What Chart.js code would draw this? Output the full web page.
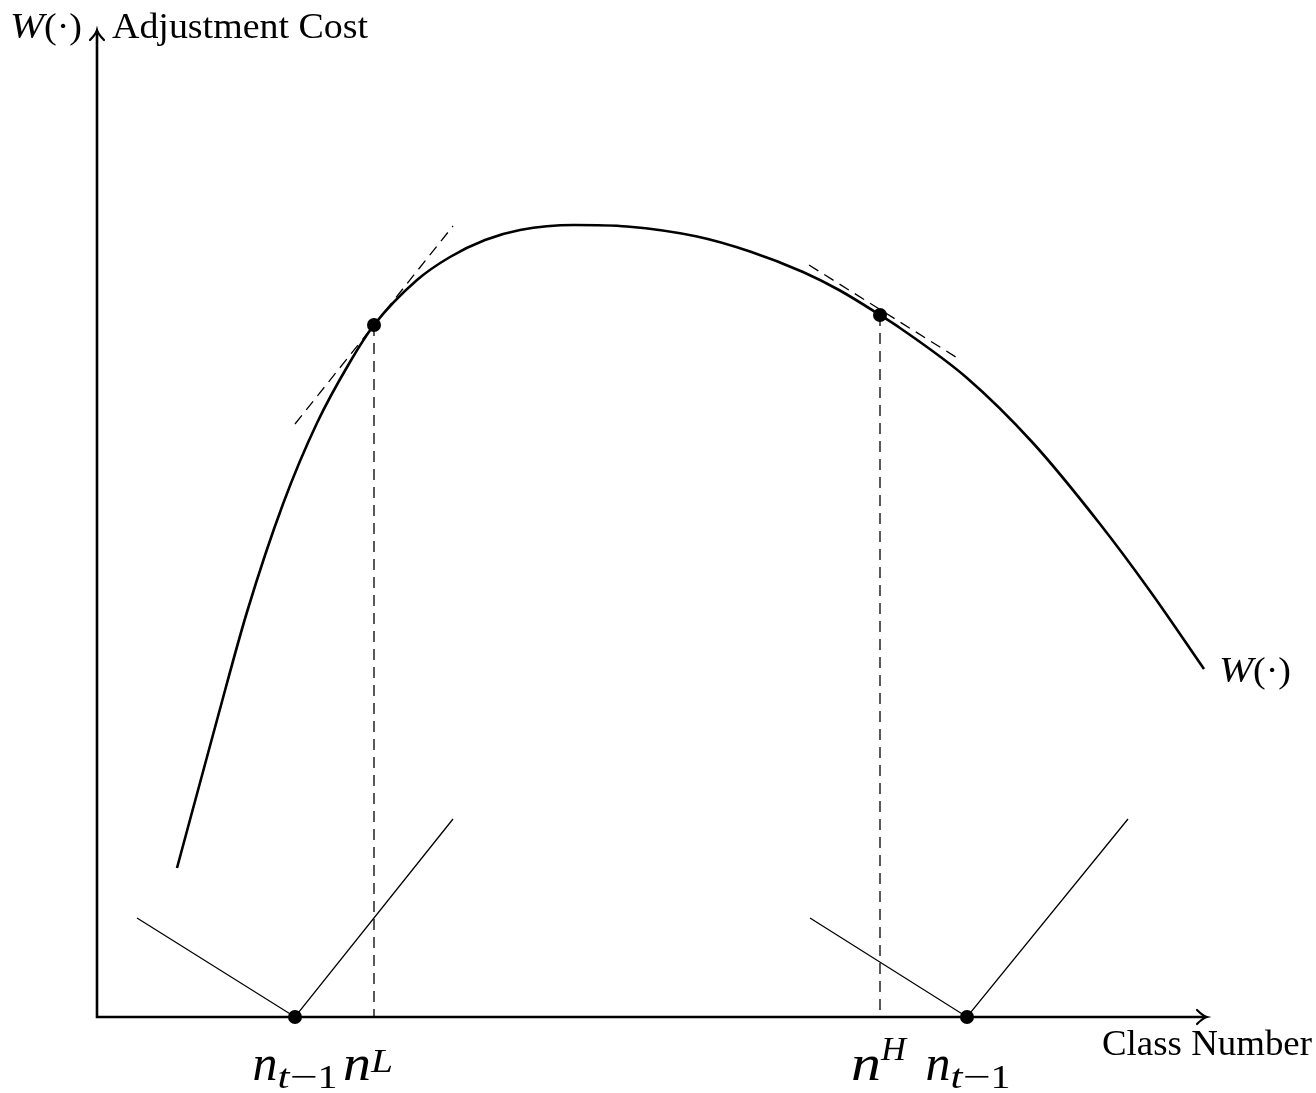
<!DOCTYPE html>
<html><head><meta charset="utf-8">
<script src="https://cdn.jsdelivr.net/npm/chart.js@4.4.1/dist/chart.umd.min.js"></script>
<style>html,body{margin:0;padding:0;background:#fff}#wrap{width:1316px;height:1093px}</style>
</head><body><div id="wrap"><canvas id="c" width="1316" height="1093"></canvas></div>
<script>
// ---- data (diagram units) ----
const curveX = [0.80, 1.20, 1.50, 1.86, 2.20, 2.53, 2.77, 3.20, 3.53, 3.88, 4.23, 4.77, 5.30, 6.00, 6.53, 7.06, 7.42, 7.83, 8.03, 8.70, 9.36, 10.03, 10.53, 11.07];
const curveY = [1.49, 2.97, 4.05, 5.13, 5.94, 6.55, 6.92, 7.37, 7.60, 7.77, 7.87, 7.92, 7.905, 7.805, 7.655, 7.45, 7.27, 7.02, 6.89, 6.39, 5.74, 4.93, 4.26, 3.48];
const tangentLX = [1.98, 3.56];
const tangentLY = [5.93, 7.91];
const tangentHX = [7.12, 8.62];
const tangentHY = [7.52, 6.58];
const nL = 2.77, nLy = 6.92;
const nH = 7.83, nHy = 7.02;
const nPrevL = 1.98, nPrevH = 8.70;
const vLeftX = [0.40, 1.98, 3.56];
const vLeftY = [0.99, 0.00, 1.98];
const vRightX = [7.13, 8.70, 10.31];
const vRightY = [0.99, 0.00, 1.98];
const xMax = 11.10, yMax = 9.87;
const yAxisTitle = "Adjustment Cost";
const xAxisTitle = "Class Number";

const pts = (xs, ys) => xs.map((x, i) => ({x, y: ys[i]}));

const SERIF = '"Liberation Serif", "DejaVu Serif", serif';

function drawRuns(ctx, runs, startX, baseY) {
  let x = startX;
  for (const r of runs) {
    ctx.font = r.font;
    const m = ctx.measureText(r.t).width;
    const sx = r.w ? r.w / m : 1;
    ctx.save();
    ctx.translate(x, baseY + (r.dy || 0));
    ctx.scale(sx, 1);
    ctx.fillText(r.t, 0, 0);
    ctx.restore();
    x += m * sx;
  }
  return x - startX;
}
function runsWidth(ctx, runs) {
  let w = 0;
  for (const r of runs) { ctx.font = r.font; const m = ctx.measureText(r.t).width; w += r.w ? r.w : m; }
  return w;
}

const nFont = 'italic 50px ' + SERIF;
const supFont = 'italic 34px ' + SERIF;
const subRuns = [
  {t: 'n', font: nFont, w: 25},
  {t: 't', font: supFont, dy: 8, w: 12},
  {t: '\u2212', font: '34px ' + SERIF, dy: 8, w: 28},
  {t: '1', font: '34px ' + SERIF, dy: 8, w: 20}
];

const diagramPlugin = {
  id: 'diagram',
  beforeDatasetsDraw(chart) {
    const {ctx} = chart;
    const xs = chart.scales.x, ys = chart.scales.y;
    const x0 = xs.getPixelForValue(0), y0 = ys.getPixelForValue(0);
    const xe = xs.getPixelForValue(xMax), ye = ys.getPixelForValue(yMax);
    ctx.save();
    ctx.strokeStyle = '#000';
    ctx.lineWidth = 2.6;
    ctx.lineCap = 'butt';
    ctx.beginPath();
    ctx.moveTo(x0, y0 + 1.3); ctx.lineTo(x0, ye + 1);
    ctx.moveTo(x0 - 1.3, y0); ctx.lineTo(xe - 1, y0);
    ctx.stroke();
    ctx.lineWidth = 2.2;
    ctx.lineCap = 'round';
    ctx.beginPath();
    ctx.moveTo(x0 - 7, ye + 10); ctx.quadraticCurveTo(x0 - 1, ye + 4, x0, ye);
    ctx.quadraticCurveTo(x0 + 1, ye + 4, x0 + 7, ye + 10);
    ctx.moveTo(xe - 10, y0 - 7); ctx.quadraticCurveTo(xe - 4, y0 - 1, xe, y0);
    ctx.quadraticCurveTo(xe - 4, y0 + 1, xe - 10, y0 + 7);
    ctx.stroke();
    ctx.restore();
  },
  afterDatasetsDraw(chart) {
    const {ctx} = chart;
    const xs = chart.scales.x, ys = chart.scales.y;
    const x0 = xs.getPixelForValue(0), y0 = ys.getPixelForValue(0);
    const xe = xs.getPixelForValue(xMax), ye = ys.getPixelForValue(yMax);
    ctx.save();
    ctx.fillStyle = '#000';
    ctx.textBaseline = 'alphabetic';
    ctx.textAlign = 'left';
    const big = '36px ' + SERIF, bigI = 'italic 36px ' + SERIF;
    const wRuns = [{t: 'W', font: bigI, w: 34}, {t: '(\u00B7)', font: big, w: 38}];
    drawRuns(ctx, wRuns, x0 - 15 - runsWidth(ctx, wRuns), ye + 8);
    drawRuns(ctx, [{t: yAxisTitle, font: big, w: 256}], x0 + 15, ye + 8);
    drawRuns(ctx, [{t: xAxisTitle, font: big, w: 210}], xe - 105, y0 + 38);
    const cx = xs.getPixelForValue(curveX[curveX.length - 1]);
    const cy = ys.getPixelForValue(curveY[curveY.length - 1]);
    drawRuns(ctx, wRuns, cx + 15, cy + 13);
    const base = y0 + 63;
    const wSub = runsWidth(ctx, subRuns);
    drawRuns(ctx, subRuns, xs.getPixelForValue(nPrevL) - wSub / 2, base);
    drawRuns(ctx, subRuns, xs.getPixelForValue(nPrevH) - wSub / 2 + 1, base);
    const lRuns = [{t: 'n', font: nFont, w: 28}, {t: 'L', font: supFont, dy: -8, w: 22}];
    const hRuns = [{t: 'n', font: nFont, w: 30}, {t: 'H', font: supFont, dy: -20, w: 25}];
    drawRuns(ctx, lRuns, xs.getPixelForValue(nL) - 31, base);
    drawRuns(ctx, hRuns, xs.getPixelForValue(nH) - 29, base);
    ctx.restore();
  }
};

const thin = {borderColor: '#000', borderWidth: 1.3, pointRadius: 0, showLine: true, clip: false, fill: false};
const dashed = Object.assign({}, thin, {borderDash: [11, 7], borderWidth: 1.3});

new Chart(document.getElementById('c'), {
  type: 'scatter',
  data: {
    datasets: [
      Object.assign({}, thin, {label: 'W', data: pts(curveX, curveY), borderWidth: 2.6, cubicInterpolationMode: 'monotone'}),
      Object.assign({}, dashed, {label: 'tangent L', data: pts(tangentLX, tangentLY)}),
      Object.assign({}, dashed, {label: 'tangent H', data: pts(tangentHX, tangentHY)}),
      Object.assign({}, dashed, {label: 'nL', data: [{x: nL, y: nLy}, {x: nL, y: 0}]}),
      Object.assign({}, dashed, {label: 'nH', data: [{x: nH, y: nHy}, {x: nH, y: 0}]}),
      Object.assign({}, thin, {label: 'cost L', data: pts(vLeftX, vLeftY)}),
      Object.assign({}, thin, {label: 'cost H', data: pts(vRightX, vRightY)}),
      {label: 'points', data: [{x: nL, y: nLy}, {x: nH, y: nHy}, {x: nPrevL, y: 0}, {x: nPrevH, y: 0}],
       showLine: false, pointRadius: 7, pointBackgroundColor: '#000', pointBorderWidth: 0, borderColor: '#000', clip: false}
    ]
  },
  options: {
    responsive: false,
    animation: false,
    devicePixelRatio: 1,
    layout: {padding: {left: 97, right: 109, top: 30, bottom: 76}},
    plugins: {legend: {display: false}, tooltip: {enabled: false}},
    events: [],
    scales: {
      x: {type: 'linear', display: false, min: 0, max: xMax},
      y: {type: 'linear', display: false, min: 0, max: yMax}
    }
  },
  plugins: [diagramPlugin]
});
</script>
</body></html>
